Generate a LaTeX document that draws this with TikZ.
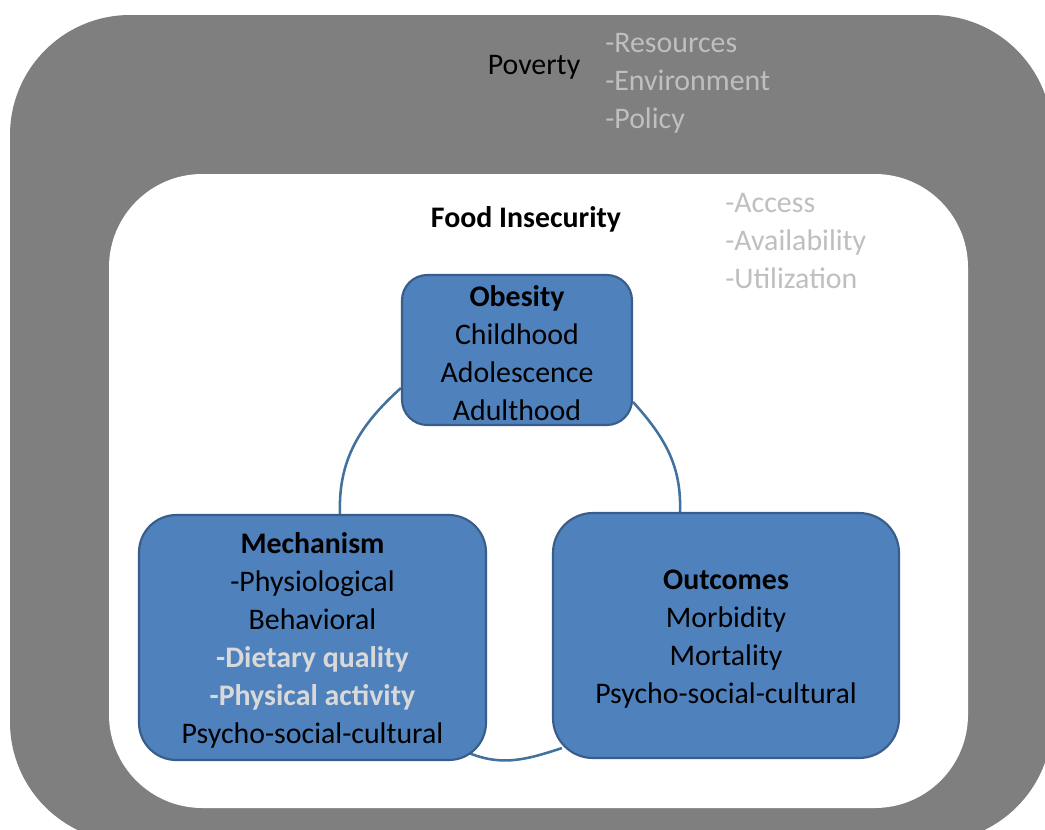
\documentclass[tikz,border=0pt]{standalone}
\usepackage{fontspec}
\setmainfont{Carlito}
\usetikzlibrary{calc}
\definecolor{boxblue}{HTML}{4F81BD}
\definecolor{boxedge}{HTML}{385D8A}
\definecolor{linkblue}{HTML}{41719C}
\definecolor{outergray}{HTML}{7F7F7F}
\definecolor{softgray}{HTML}{BFBFBF}
\definecolor{palegray}{HTML}{D9D9D9}
\pgfdeclarelayer{back}
\pgfdeclarelayer{links}
\pgfsetlayers{back,links,main}
% taller first line, so the text block sits a little lower in its box
\newcommand{\toppad}{\rule{0pt}{20.5pt}}

\begin{document}
\begin{tikzpicture}[x=0.75pt,y=-0.75pt,
  txt/.style={font=\fontsize{22.4}{28.5}\selectfont, inner sep=0pt},
  stage/.style={txt, draw=boxedge, line width=1.6pt, fill=boxblue, align=center},
  link/.style={draw=linkblue, line width=1.9pt},
  note/.style={txt, align=left, text=softgray}
]
\useasboundingbox (0,0) rectangle (1045,829);

% nested context frames: poverty (gray) around food insecurity (white)
\begin{pgfonlayer}{back}
  \clip (0,0) rectangle (1045,829);
  \fill[outergray, rounded corners=90pt] (10,15) rectangle (1052,842);
  \fill[white, rounded corners=70pt] (109,174) rectangle (968,808);
\end{pgfonlayer}

% context labels
\node[txt] (poverty) at (534,67) {Poverty};
\node[note, anchor=west] (povlist) at (605,83) {-Resources\\-Environment\\-Policy};
\node[txt] (foodins) at (526,219) {\bfseries Food Insecurity};
\node[note, anchor=west] (fislist) at (725,241) {-Access\\-Availability\\-Utilization};

% the three stages
\node[stage, minimum width=172.5pt, minimum height=112.5pt, rounded corners=19pt]
  (obesity) at (517,350) {\toppad\textbf{Obesity}\\Childhood\\Adolescence\\Adulthood};
\node[stage, minimum width=260.25pt, minimum height=183.75pt, rounded corners=28pt]
  (mech) at (312.5,637.5) {\toppad\textbf{Mechanism}\\-Physiological\\Behavioral\\
  \textcolor{palegray}{\textbf{-Dietary quality}}\\
  \textcolor{palegray}{\textbf{-Physical activity}}\\Psycho-social-cultural};
\node[stage, minimum width=259.5pt, minimum height=183.75pt, rounded corners=30pt]
  (outcomes) at (726,635.5) {\toppad\textbf{Outcomes}\\Morbidity\\Mortality\\Psycho-social-cultural};

% curved links running behind the stages
\begin{pgfonlayer}{links}
  \draw[link] ([yshift=-28.5pt]obesity.west) to[out=222,in=92] ([xshift=20.6pt]mech.north);
  \draw[link] ([yshift=-39pt]obesity.east) to[out=-48,in=88] ([xshift=-34.5pt]outcomes.north);
  \draw[link] ([shift={(-13.5pt,6pt)}]mech.south east) to[out=-22,in=198]
    ([shift={(7.5pt,8.25pt)}]outcomes.south west);
\end{pgfonlayer}
\end{tikzpicture}
\end{document}
